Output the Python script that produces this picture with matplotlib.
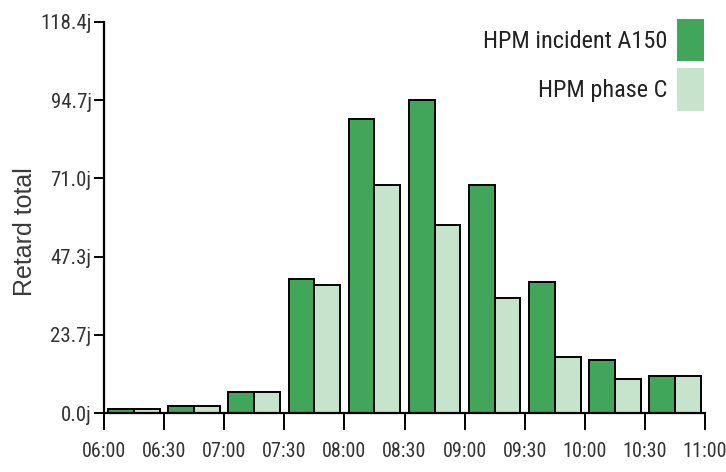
import matplotlib
matplotlib.use("Agg")
import matplotlib.pyplot as plt
from matplotlib.patches import Patch
import numpy as np

# bins de 30 minutes
creneaux = ["06:00", "06:30", "07:00", "07:30", "08:00",
            "08:30", "09:00", "09:30", "10:00", "10:30"]
tick_labels = creneaux + ["11:00"]

incident_a150 = [1.2, 2.1, 6.5, 40.6, 89.0, 94.72, 69.1, 39.6, 16.0, 11.3]
phase_c = [1.2, 2.1, 6.5, 38.9, 69.1, 56.9, 34.9, 16.9, 10.3, 11.3]

y_ticks = [0.0, 23.7, 47.3, 71.0, 94.7, 118.4]

vert_fonce = "#41a55a"
vert_clair = "#c5e4cb"
narrow = ["Roboto Condensed", "Liberation Sans Narrow", "Liberation Sans", "DejaVu Sans"]

fig = plt.figure(figsize=(7.26, 4.72), dpi=100)
ax = fig.add_axes([104 / 726, (472 - 413.3) / 472, 601 / 726, (413.3 - 21.6) / 472])

x = np.arange(len(creneaux)) + 0.5
w = 0.43
ax.bar(x - w / 2, incident_a150, width=w, color=vert_fonce,
       edgecolor="black", linewidth=1.4, zorder=2)
ax.bar(x + w / 2, phase_c, width=w, color=vert_clair,
       edgecolor="black", linewidth=1.4, zorder=2)

ax.set_xlim(0, len(creneaux))
ax.set_ylim(0, 118.4)

ax.set_xticks(np.arange(len(tick_labels)))
ax.set_xticklabels(tick_labels, family=narrow, fontsize=14.5, color="#333333")
ax.set_yticks(y_ticks)
ax.set_yticklabels([f"{v:.1f}j" for v in y_ticks], family=narrow,
                   fontsize=15, color="#333333")

ax.tick_params(axis="x", length=12, width=1.4, pad=9)
ax.tick_params(axis="y", length=7, width=1.4, pad=2)

for s in ["top", "right"]:
    ax.spines[s].set_visible(False)
for s in ["left", "bottom"]:
    ax.spines[s].set_linewidth(1.6)

ax.set_ylabel("Retard total", family=["Liberation Sans", "DejaVu Sans"],
              fontsize=18, color="#3a3a3a")
ax.yaxis.label.set_va("center")
ax.yaxis.set_label_coords(-0.131, 0.463)

handles = [Patch(facecolor=vert_fonce, edgecolor="none"),
           Patch(facecolor=vert_clair, edgecolor="none")]
fs = 17.5
fs_px = fs * 100 / 72
leg = fig.legend(handles, ["HPM incident A150", "HPM phase C"],
                 loc="upper right", bbox_to_anchor=(704 / 726, 1 - 19 / 472),
                 frameon=False, markerfirst=False, borderpad=0, borderaxespad=0,
                 handlelength=27 / fs_px, handleheight=56 / fs_px,
                 labelspacing=7 / fs_px, handletextpad=10 / fs_px,
                 prop={"family": narrow, "size": fs})
for t in leg.get_texts():
    t.set_color("#222222")

fig.savefig("out.png", dpi=100)
